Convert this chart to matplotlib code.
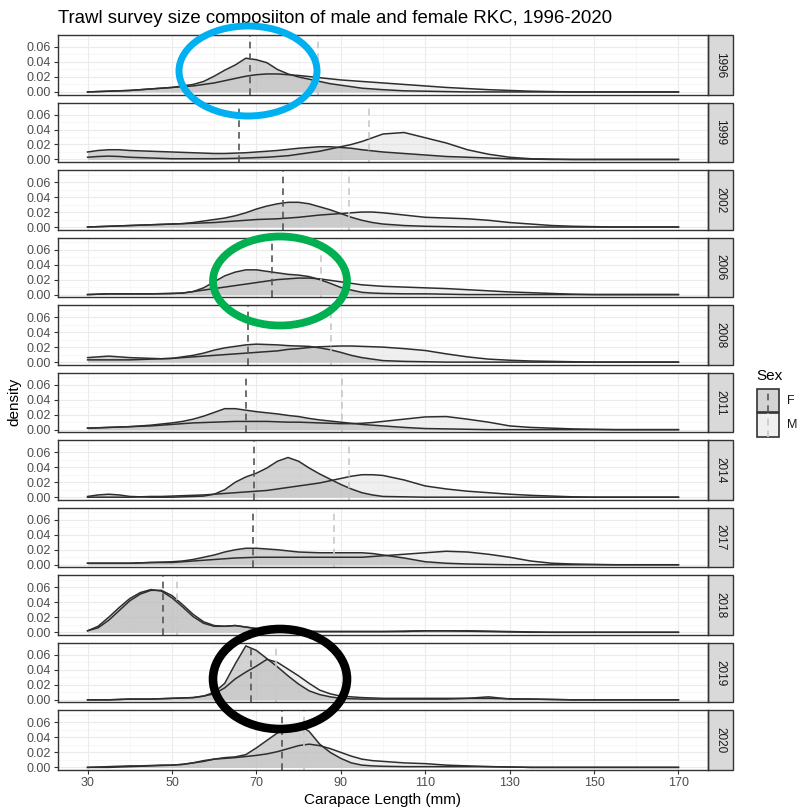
import matplotlib.pyplot as plt
from matplotlib.patches import Ellipse, Rectangle
from matplotlib.lines import Line2D

plt.rcParams['font.family'] = ['Liberation Sans', 'DejaVu Sans']

# survey years (one facet each)
YEARS = [1996, 1999, 2002, 2006, 2008, 2011, 2014, 2017, 2018, 2019, 2020]

# carapace length grid (mm): every 2.5 mm up to 100, then every 5 mm
LENGTH = [30 + 2.5 * k for k in range(29)] + list(range(105, 171, 5))

# female densities
F_1996 = [0, .0005, .001, .0015, .002, .003, .004, .005, .006, .008, .010, .014, .021, .029, .036, .045, .043,
          .039, .030, .024, .020, .017, .014, .011, .009, .007, .005, .004, .003,
          .0015, .001, .0005, 0, 0, 0, 0, 0, 0, 0, 0, 0, 0, 0]
F_1999 = [.010, .012, .013, .013, .012, .0115, .011, .0105, .010, .0095, .009, .0085, .008, .008, .0085, .009,
          .010, .011, .012, .0135, .015, .016, .017, .017, .016, .015, .013, .0115, .010,
          .008, .006, .004, .003, .002, .001, .0005, 0, 0, 0, 0, 0, 0, 0]
F_2002 = [0, .0005, .001, .0015, .002, .0025, .003, .0035, .004, .0045, .006, .008, .010, .012, .015, .019, .024,
          .028, .031, .033, .033, .031, .027, .023, .018, .013, .009, .006, .004,
          .002, .001, .0005, 0, 0, 0, 0, 0, 0, 0, 0, 0, 0, 0]
F_2006 = [0, .0005, .001, .001, .001, .001, .001, .0012, .0015, .002, .004, .009, .017, .025, .030, .033, .033,
          .031, .029, .027, .026, .024, .020, .015, .0095, .006, .003, .002, .0015,
          .001, .001, .0005, 0, 0, 0, 0, 0, 0, 0, 0, 0, 0, 0]
F_2008 = [.006, .007, .008, .007, .006, .0055, .005, .0045, .005, .007, .009, .012, .016, .019, .021, .023, .024,
          .0235, .023, .022, .0215, .021, .019, .0165, .013, .009, .006, .004, .002,
          .001, .0005, 0, 0, 0, 0, 0, 0, 0, 0, 0, 0, 0, 0]
F_2011 = [.002, .0025, .003, .0035, .004, .005, .006, .0075, .009, .011, .014, .018, .023, .028, .028, .026, .024,
          .0225, .021, .019, .0175, .015, .013, .0115, .010, .0085, .007, .006, .005,
          .003, .0015, .001, .0005, 0, 0, 0, 0, 0, 0, 0, 0, 0, 0]
F_2014 = [.001, .003, .004, .003, .001, .0005, 0, 0, 0, .0005, .001, .0015, .004, .010, .020, .027, .032,
          .039, .048, .053, .048, .039, .031, .024, .017, .011, .006, .003, .001,
          .0005, 0, 0, 0, 0, 0, 0, 0, 0, 0, 0, 0, 0, 0]
F_2017 = [.002, .002, .002, .002, .002, .0025, .003, .0035, .004, .005, .007, .010, .013, .017, .020, .022, .022,
          .021, .020, .0185, .017, .0165, .016, .016, .016, .016, .016, .015, .013,
          .009, .004, .002, .001, .0005, 0, 0, 0, 0, 0, 0, 0, 0, 0]
F_2018 = [.002, .008, .020, .033, .045, .053, .057, .055, .046, .034, .021, .012, .008, .008, .009, .007, .005,
          .003, .002, .0015, .001, .001, .001, .001, .001, .001, .001, .001, .001,
          .001, .002, .002, .0015, .001, .0005, 0, 0, 0, 0, 0, 0, 0, 0]
F_2019 = [0, 0, 0, .0005, .001, .001, .001, .0015, .002, .0025, .003, .005, .010, .022, .048, .072, .066,
          .055, .044, .032, .021, .012, .007, .004, .002, .0015, .001, .001, .001,
          .001, .001, .001, .002, .004, .001, .001, .0005, 0, 0, 0, 0, 0, 0]
F_2020 = [0, 0, 0, .0005, .001, .0015, .002, .0025, .003, .004, .006, .009, .011, .013, .014, .017, .026,
          .036, .046, .053, .057, .048, .031, .020, .012, .006, .003, .002, .0015,
          .001, .001, .001, .001, .001, .0005, 0, 0, 0, 0, 0, 0, 0, 0]

# male densities
M_1996 = [0, .0005, .001, .0015, .002, .003, .004, .005, .006, .007, .008, .010, .012, .015, .018, .021, .023,
          .024, .024, .023, .022, .0205, .019, .0175, .016, .015, .014, .013, .012,
          .010, .008, .006, .0045, .003, .002, .001, .0005, 0, 0, 0, 0, 0, 0]
M_1999 = [.003, .004, .0045, .004, .003, .0025, .002, .0015, .001, .001, .001, .001, .001, .0012, .0015, .002,
          .0025, .003, .004, .005, .007, .009, .011, .014, .017, .020, .024, .029, .034,
          .036, .029, .022, .013, .007, .003, .001, .0005, 0, 0, 0, 0, 0, 0]
M_2002 = [0, .0005, .001, .0015, .002, .0025, .003, .0035, .004, .0045, .005, .0055, .006, .007, .008, .009,
          .010, .0105, .011, .012, .013, .0145, .016, .017, .018, .019, .020, .020, .019,
          .016, .013, .012, .011, .009, .006, .004, .002, .001, .0005, 0, 0, 0, 0]
M_2006 = [0, .0005, .001, .001, .001, .001, .001, .0012, .0015, .002, .004, .006, .008, .010, .012, .014, .016,
          .018, .020, .021, .022, .022, .021, .019, .017, .015, .013, .012, .011,
          .010, .009, .008, .0065, .005, .0035, .0025, .0015, .0005, 0, 0, 0, 0, 0]
M_2008 = [.003, .003, .003, .003, .003, .0035, .004, .0045, .005, .006, .007, .008, .009, .010, .011, .012, .013,
          .014, .015, .017, .018, .0195, .0205, .021, .0215, .0215, .021, .0205, .020,
          .018, .0155, .011, .007, .004, .0025, .0015, .001, .0005, 0, 0, 0, 0, 0]
M_2011 = [.002, .0025, .003, .0035, .004, .0045, .005, .006, .007, .008, .009, .0095, .010, .0105, .011, .011,
          .011, .011, .0105, .010, .010, .0095, .009, .0085, .008, .008, .0085, .0095, .011,
          .014, .017, .0175, .014, .010, .005, .003, .002, .001, .0005, 0, 0, 0, 0]
M_2014 = [0, 0, 0, 0, 0, .0005, .001, .001, .0015, .002, .0025, .003, .004, .005, .006, .007, .008,
          .009, .011, .013, .015, .017, .019, .022, .025, .028, .030, .030, .029,
          .023, .015, .011, .008, .006, .004, .0025, .0015, .0005, 0, 0, 0, 0, 0]
M_2017 = [.002, .002, .002, .002, .002, .0025, .003, .003, .003, .004, .005, .006, .007, .008, .009, .0095, .010,
          .010, .010, .010, .010, .010, .010, .010, .010, .010, .010, .011, .012,
          .014, .016, .018, .017, .014, .010, .005, .002, .001, .0005, 0, 0, 0, 0]
M_2018 = [.002, .006, .016, .029, .042, .051, .056, .056, .049, .037, .024, .014, .009, .008, .009, .007, .005,
          .0035, .0025, .002, .0015, .0015, .001, .001, .001, .001, .001, .001, .001,
          .0015, .002, .002, .002, .0015, .001, .0005, 0, 0, 0, 0, 0, 0, 0]
M_2019 = [0, 0, 0, .0005, .001, .001, .001, .0015, .002, .0025, .003, .005, .008, .016, .028, .037, .045,
          .054, .050, .041, .032, .022, .013, .008, .005, .004, .003, .0025, .002,
          .002, .002, .002, .002, .002, .0015, .001, .0005, 0, 0, 0, 0, 0, 0]
M_2020 = [0, .0005, .001, .0015, .002, .002, .0025, .003, .003, .004, .006, .008, .011, .012, .013, .0145, .016,
          .018, .021, .025, .029, .031, .029, .025, .020, .015, .011, .009, .008,
          .006, .005, .003, .002, .001, .0005, 0, 0, 0, 0, 0, 0, 0, 0]

# mean carapace length per year (dashed lines)
F_MEAN = [68.5, 65.8, 76.3, 73.8, 67.9, 67.6, 69.5, 69.3, 47.8, 68.7, 76.1]
M_MEAN = [84.5, 96.8, 91.9, 85.3, 87.7, 90.3, 91.9, 88.3, 51.1, 74.7, 81.3]

F_DENS = [F_1996, F_1999, F_2002, F_2006, F_2008, F_2011, F_2014, F_2017, F_2018, F_2019, F_2020]
M_DENS = [M_1996, M_1999, M_2002, M_2006, M_2008, M_2011, M_2014, M_2017, M_2018, M_2019, M_2020]

W, H = 798, 808
fig = plt.figure(figsize=(W / 100, H / 100), dpi=100)
axs = fig.subplots(len(YEARS), 1, sharex=True)
fig.subplots_adjust(left=58 / W, right=708 / W, top=1 - 35 / H, bottom=1 - 770 / H, hspace=0.134)

for i, ax in enumerate(axs):
    ax.fill_between(LENGTH, M_DENS[i], color='#E0E0E0', alpha=0.5, lw=0)
    ax.fill_between(LENGTH, F_DENS[i], color='#A8A8A8', alpha=0.5, lw=0)
    ax.plot(LENGTH, M_DENS[i], color='#2e2e2e', lw=1.1)
    ax.plot(LENGTH, F_DENS[i], color='#2e2e2e', lw=1.1)
    ax.axvline(F_MEAN[i], color='#555555', ls=(0, (4, 3)), lw=1.2)
    ax.axvline(M_MEAN[i], color='#c8c8c8', ls=(0, (4, 3)), lw=1.2)

    ax.set_xlim(23, 177)
    ax.set_ylim(-0.0035, 0.076)
    ax.set_yticks([0, 0.02, 0.04, 0.06])
    ax.set_yticklabels(['0.00', '0.02', '0.04', '0.06'])
    ax.set_yticks([0.01, 0.03, 0.05, 0.07], minor=True)
    ax.set_xticks(range(30, 171, 20))
    ax.set_xticks(range(40, 171, 20), minor=True)
    ax.grid(which='major', color='#EBEBEB', lw=0.8)
    ax.grid(which='minor', color='#F4F4F4', lw=0.5)
    ax.set_axisbelow(True)
    for s in ax.spines.values():
        s.set_color('#333333')
        s.set_linewidth(1.0)
    ax.tick_params(length=3, width=0.8, color='#333333', labelcolor='#4D4D4D', labelsize=9, pad=2)
    ax.tick_params(which='minor', length=0)
    if i < len(axs) - 1:
        ax.tick_params(axis='x', bottom=False)

    # facet strip on the right
    ax.add_patch(Rectangle((1, 0), 25 / 650, 1, transform=ax.transAxes, clip_on=False,
                           facecolor='#D9D9D9', edgecolor='#333333', lw=1.0))
    ax.text(1 + 12.5 / 650, 0.5, str(YEARS[i]), transform=ax.transAxes, rotation=270,
            ha='center', va='center', fontsize=8.5, color='#1A1A1A')

fig.text(58 / W, 1 - 23 / H, 'Trawl survey size composiiton of male and female RKC, 1996-2020',
         ha='left', va='baseline', fontsize=13.4)
fig.text(383 / W, 1 - 800 / H, 'Carapace Length (mm)', ha='center', va='center', fontsize=11)
fig.text(14 / W, 1 - 402 / H, 'density', ha='center', va='center', rotation=90, fontsize=11)

# legend
fig.text(756 / W, 1 - 380 / H, 'Sex', ha='left', va='baseline', fontsize=11)
for top, face, dash, lab in [(389, '#D3D3D3', '#555555', 'F'), (413, '#F0F0F0', '#c8c8c8', 'M')]:
    fig.add_artist(Rectangle((757 / W, 1 - (top + 23.5) / H), 22 / W, 23.5 / H, transform=fig.transFigure,
                             facecolor=face, edgecolor='#333333', lw=1.2))
    fig.add_artist(Line2D([768 / W, 768 / W], [1 - (top + 23.5) / H, 1 - top / H], transform=fig.transFigure,
                          color=dash, ls=(0, (4, 3)), lw=1.2))
    fig.text(787 / W, 1 - (top + 12) / H, lab, ha='left', va='center', fontsize=9, color='#1A1A1A')

# highlight rings
for cx, cy, ew, eh, col, lw in [(248, 71, 138, 90, '#00B0F0', 5.0),
                                (280, 281, 134, 89, '#00B050', 5.6),
                                (280, 679, 134, 100, '#000000', 6.2)]:
    fig.add_artist(Ellipse((cx / W, 1 - cy / H), ew / W, eh / H, transform=fig.transFigure,
                           fill=False, edgecolor=col, lw=lw, zorder=10))

fig.savefig('out.png', dpi=100)
